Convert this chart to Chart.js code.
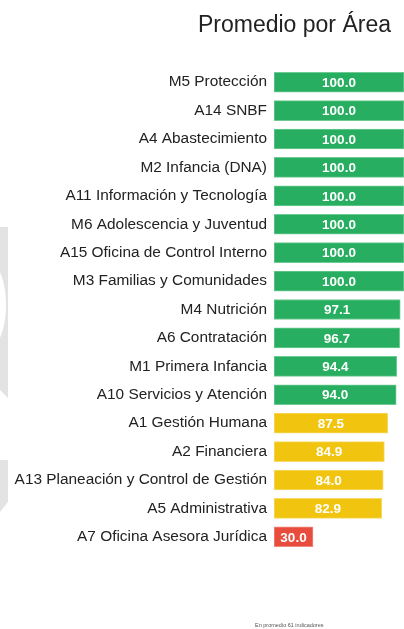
<!DOCTYPE html>
<html lang="es">
<head>
    <meta charset="UTF-8">
    <title>Promedio por Área</title>
    <script src="https://cdn.jsdelivr.net/npm/chart.js"></script>
    <style>
        body {
            margin: 0;
            background: #fff;
            font-family: "Liberation Sans", Arial, sans-serif;
        }
        .wrap {
            position: relative;
            width: 404px;
            height: 629px;
            overflow: hidden;
        }
        #areaChart {
            position: absolute;
            left: 0;
            top: 0;
        }
        .titulo {
            position: absolute;
            right: 13px;
            top: 13px;
            font-size: 23px;
            line-height: 23px;
            color: #222;
            white-space: nowrap;
        }
        .nota {
            position: absolute;
            left: 255px;
            top: 622px;
            font-size: 5.5px;
            line-height: 6px;
            color: #555;
            white-space: nowrap;
        }
    </style>
</head>
<body>
    <div class="wrap">
        <canvas id="areaChart" width="404" height="629"></canvas>
        <div class="titulo">Promedio por Área</div>
        <div class="nota">En promedio 61 indicadores</div>
    </div>
    <script>
        // datos
        const areas = [
            'M5 Protección',
            'A14 SNBF',
            'A4 Abastecimiento',
            'M2 Infancia (DNA)',
            'A11 Información y Tecnología',
            'M6 Adolescencia y Juventud',
            'A15 Oficina de Control Interno',
            'M3 Familias y Comunidades',
            'M4 Nutrición',
            'A6 Contratación',
            'M1 Primera Infancia',
            'A10 Servicios y Atención',
            'A1 Gestión Humana',
            'A2 Financiera',
            'A13 Planeación y Control de Gestión',
            'A5 Administrativa',
            'A7 Oficina Asesora Jurídica'
        ];
        const promedios = [100, 100, 100, 100, 100, 100, 100, 100, 97.1, 96.7, 94.4, 94.0, 87.5, 84.9, 84.0, 82.9, 30.0];

        // color según el rango del promedio
        function colorBarra(v) {
            if (v >= 90) return '#27ae60';
            if (v >= 50) return '#f1c40f';
            return '#e74c3c';
        }
        function bordeBarra(v) {
            if (v >= 90) return '#6fcb94';
            if (v >= 50) return '#f6da6a';
            return '#f08a7f';
        }

        // fondo decorativo (marca gris a la izquierda)
        const fondoPlugin = {
            id: 'fondo',
            beforeDraw(chart) {
                const ctx = chart.ctx;
                ctx.save();
                ctx.fillStyle = '#e3e3e3';
                ctx.beginPath();
                ctx.moveTo(0, 227);
                ctx.lineTo(8, 227);
                ctx.lineTo(8, 398);
                ctx.lineTo(0, 390);
                ctx.closePath();
                ctx.fill();
                ctx.beginPath();
                ctx.moveTo(0, 460);
                ctx.lineTo(8, 460);
                ctx.lineTo(8, 502);
                ctx.lineTo(0, 512);
                ctx.closePath();
                ctx.fill();
                ctx.fillStyle = '#fff';
                ctx.beginPath();
                ctx.ellipse(-10, 305, 16, 42, 0, 0, Math.PI * 2);
                ctx.fill();
                ctx.restore();
            }
        };

        // valores dentro de cada barra
        const valoresPlugin = {
            id: 'valores',
            afterDatasetsDraw(chart) {
                const ctx = chart.ctx;
                const meta = chart.getDatasetMeta(0);
                ctx.save();
                ctx.fillStyle = '#fff';
                ctx.font = 'bold 13.5px "Liberation Sans", Arial, sans-serif';
                ctx.textAlign = 'center';
                ctx.textBaseline = 'middle';
                meta.data.forEach((bar, i) => {
                    const x = (bar.base + bar.x) / 2;
                    ctx.fillText(promedios[i].toFixed(1), x, bar.y + 1);
                });
                ctx.restore();
            }
        };

        const ctx = document.getElementById('areaChart').getContext('2d');
        new Chart(ctx, {
            type: 'bar',
            data: {
                labels: areas,
                datasets: [{
                    data: promedios,
                    backgroundColor: promedios.map(colorBarra),
                    borderColor: promedios.map(bordeBarra),
                    borderWidth: 1,
                    borderSkipped: false,
                    barThickness: 20
                }]
            },
            options: {
                indexAxis: 'y',
                responsive: false,
                animation: false,
                layout: {
                    padding: { top: 68, bottom: 78, left: 0, right: 0 }
                },
                plugins: {
                    legend: { display: false },
                    tooltip: { enabled: false }
                },
                scales: {
                    x: {
                        display: false,
                        min: 0,
                        max: 100
                    },
                    y: {
                        grid: { display: false, drawTicks: false },
                        border: { display: false },
                        afterFit(scale) {
                            scale.width = 274;
                        },
                        ticks: {
                            padding: 7,
                            color: '#222',
                            font: { family: '"Liberation Sans", Arial, sans-serif', size: 15.4 }
                        }
                    }
                }
            },
            plugins: [fondoPlugin, valoresPlugin]
        });
    </script>
</body>
</html>
